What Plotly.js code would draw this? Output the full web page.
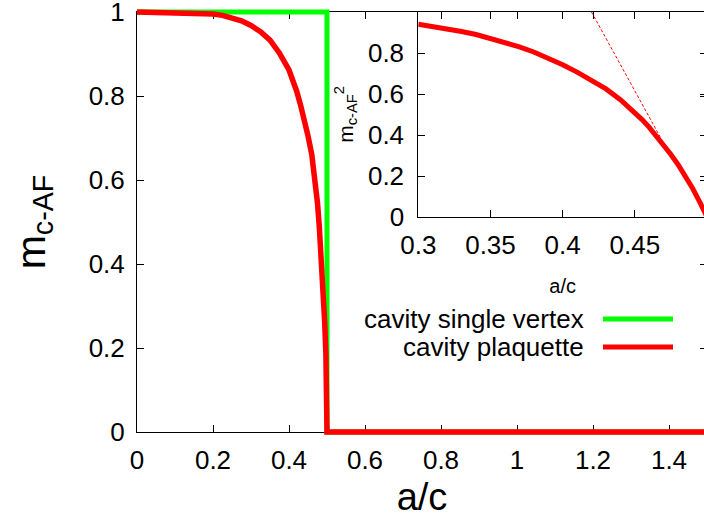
<!DOCTYPE html>
<html>
<head>
<meta charset="utf-8">
<script src="https://cdn.plot.ly/plotly-3.0.1.min.js"></script>
<style>
html, body { margin: 0; padding: 0; overflow: hidden; background: #fff; }
#chart { width: 712px; height: 523px; }
</style>
</head>
<body>
<div id="chart"></div>
<script>
// ---- data ----
// main panel: order parameter m_c-AF vs a/c
const singleVertexX = [0, 0.5, 0.5, 1.5];
const singleVertexY = [1, 1, 0, 0];

const plaquetteX = [0, 0.1, 0.15, 0.2, 0.225, 0.25, 0.275, 0.3, 0.325, 0.35, 0.375, 0.4, 0.41, 0.42, 0.43, 0.44, 0.45, 0.46, 0.47, 0.475, 0.48, 0.485, 0.49, 0.494, 0.497, 0.499, 0.5, 1.5];
const plaquetteY = [1.0, 0.999, 0.998, 0.995, 0.992, 0.987, 0.979, 0.968, 0.953, 0.933, 0.902, 0.862, 0.84, 0.812, 0.78, 0.748, 0.705, 0.66, 0.595, 0.545, 0.485, 0.42, 0.335, 0.26, 0.188, 0.11, 0.0, 0.0];

// inset: m_c-AF^2 vs a/c
const insetX = [0.3, 0.31, 0.32, 0.33, 0.34, 0.35, 0.36, 0.37, 0.38, 0.39, 0.4, 0.41, 0.42, 0.43, 0.44, 0.45, 0.455, 0.46, 0.465, 0.47, 0.475, 0.48, 0.485, 0.49, 0.495, 0.5];
const insetY = [0.94, 0.93, 0.918, 0.905, 0.89, 0.872, 0.853, 0.83, 0.805, 0.776, 0.743, 0.707, 0.668, 0.625, 0.572, 0.51, 0.475, 0.437, 0.396, 0.352, 0.305, 0.255, 0.2, 0.14, 0.073, 0.0];

// inset: linear fit near the transition (dashed)
const fitX = [0.42, 0.4715];
const fitY = [1.0, 0.34];

// legend labels
const seriesNames = ['cavity single vertex', 'cavity plaquette'];
const seriesColors = ['#00ff00', '#ff0000'];

// tick labels
const mainXTicks = [0, 0.2, 0.4, 0.6, 0.8, 1, 1.2, 1.4];
const mainYTicks = [0, 0.2, 0.4, 0.6, 0.8, 1];
const insetXTicks = [0.3, 0.35, 0.4, 0.45];
const insetYTicks = [0, 0.2, 0.4, 0.6, 0.8];

// ---- figure ----
const FONT = '"Liberation Sans", Arial, Helvetica, sans-serif';

const W = 712, H = 523, ML = 137, MR = 5, MT = 4, MB = 83;
const PW = W - ML - MR, PH = H - MT - MB;      // paper area
const px2x = p => (p - ML) / PW;
const px2y = p => (H - MB - p) / PH;
const yLo = px2y(432), yHi = px2y(12);
const yScale = yHi - yLo;

const traces = [
  // empty trace so that the visible main frame (x/y) is registered as a subplot
  { x: [], y: [], xaxis: 'x', yaxis: 'y', mode: 'lines', showlegend: false, hoverinfo: 'skip' },
  { x: singleVertexX, y: singleVertexY, xaxis: 'x3', yaxis: 'y3', mode: 'lines',
    name: seriesNames[0], line: { color: seriesColors[0], width: 5 }, showlegend: false },
  { x: plaquetteX, y: plaquetteY, xaxis: 'x3', yaxis: 'y3', mode: 'lines',
    name: seriesNames[1], line: { color: seriesColors[1], width: 5.5 }, showlegend: false },
  { x: insetX, y: insetY, xaxis: 'x2', yaxis: 'y2', mode: 'lines',
    name: seriesNames[1] + ' (m²)', line: { color: seriesColors[1], width: 5 }, showlegend: false },
  { x: fitX, y: fitY, xaxis: 'x2', yaxis: 'y2', mode: 'lines',
    name: 'fit', line: { color: seriesColors[1], width: 1, dash: '3px,2px' }, showlegend: false }
];

const axisCommon = {
  showline: true, linecolor: '#000', linewidth: 1, mirror: 'ticks',
  ticks: 'inside', ticklen: 7, tickcolor: '#000', tickwidth: 1,
  showgrid: false, zeroline: false, ticklabeloverflow: 'allow',
  tickfont: { family: FONT, size: 26, color: '#000' }
};

const layout = {
  width: W, height: H,
  margin: { l: ML, r: MR, t: MT, b: MB, pad: 0 },
  paper_bgcolor: '#fff', plot_bgcolor: 'rgba(0,0,0,0)',
  showlegend: false,
  font: { family: FONT, color: '#000' },
  xaxis: Object.assign({}, axisCommon, {
    domain: [0, 1], range: [0, 1.5], anchor: 'y',
    tickvals: mainXTicks, ticktext: mainXTicks.map(String),
    ticklabelstandoff: 5,
    title: { text: 'a/c', font: { family: FONT, size: 38 }, standoff: 9 }
  }),
  yaxis: Object.assign({}, axisCommon, {
    domain: [yLo, yHi], range: [0, 1], anchor: 'x',
    tickvals: mainYTicks, ticktext: mainYTicks.map(String),
    ticklabelstandoff: 6,
    title: { text: 'm<sub>c-AF</sub>', font: { family: FONT, size: 41 }, standoff: 30 }
  }),
  // data layer for the main panel: same scale as the visible axes, but a taller
  // area so the thick lines at 0 and 1 are not cut in half
  xaxis3: { domain: [0, 1], range: [0, 1.5], anchor: 'y3', visible: false, showgrid: false, zeroline: false },
  yaxis3: { domain: [0, 1], range: [-yLo / yScale, 1 + (1 - yHi) / yScale], anchor: 'x3',
            visible: false, showgrid: false, zeroline: false },
  xaxis2: Object.assign({}, axisCommon, {
    domain: [px2x(418.3), 1], range: [0.3, 0.5], anchor: 'y2',
    tickvals: insetXTicks, ticktext: insetXTicks.map(String),
    ticklabelstandoff: 5,
    title: { text: 'a/c', font: { family: FONT, size: 20 }, standoff: 19 }
  }),
  yaxis2: Object.assign({}, axisCommon, {
    domain: [px2y(217), yHi], range: [0, 1], anchor: 'x2',
    tickvals: insetYTicks, ticktext: insetYTicks.map(String),
    ticklabelstandoff: 8,
    title: { text: 'm<sub>c-AF</sub><sup>2</sup>', font: { family: FONT, size: 21 }, standoff: 8 }
  }),
  annotations: [
    { xref: 'paper', yref: 'paper', x: px2x(586), y: px2y(319), xanchor: 'right', yanchor: 'middle',
      text: seriesNames[0], showarrow: false, font: { family: FONT, size: 26, color: '#000' } },
    { xref: 'paper', yref: 'paper', x: px2x(586), y: px2y(347), xanchor: 'right', yanchor: 'middle',
      text: seriesNames[1], showarrow: false, font: { family: FONT, size: 26, color: '#000' } }
  ],
  shapes: [
    { type: 'line', xref: 'paper', yref: 'paper', x0: px2x(603), x1: px2x(673), y0: px2y(319), y1: px2y(319),
      line: { color: seriesColors[0], width: 5 } },
    { type: 'line', xref: 'paper', yref: 'paper', x0: px2x(603), x1: px2x(673), y0: px2y(347), y1: px2y(347),
      line: { color: seriesColors[1], width: 5 } }
  ]
};

Plotly.newPlot('chart', traces, layout, { displayModeBar: false, staticPlot: true });
</script>
</body>
</html>
